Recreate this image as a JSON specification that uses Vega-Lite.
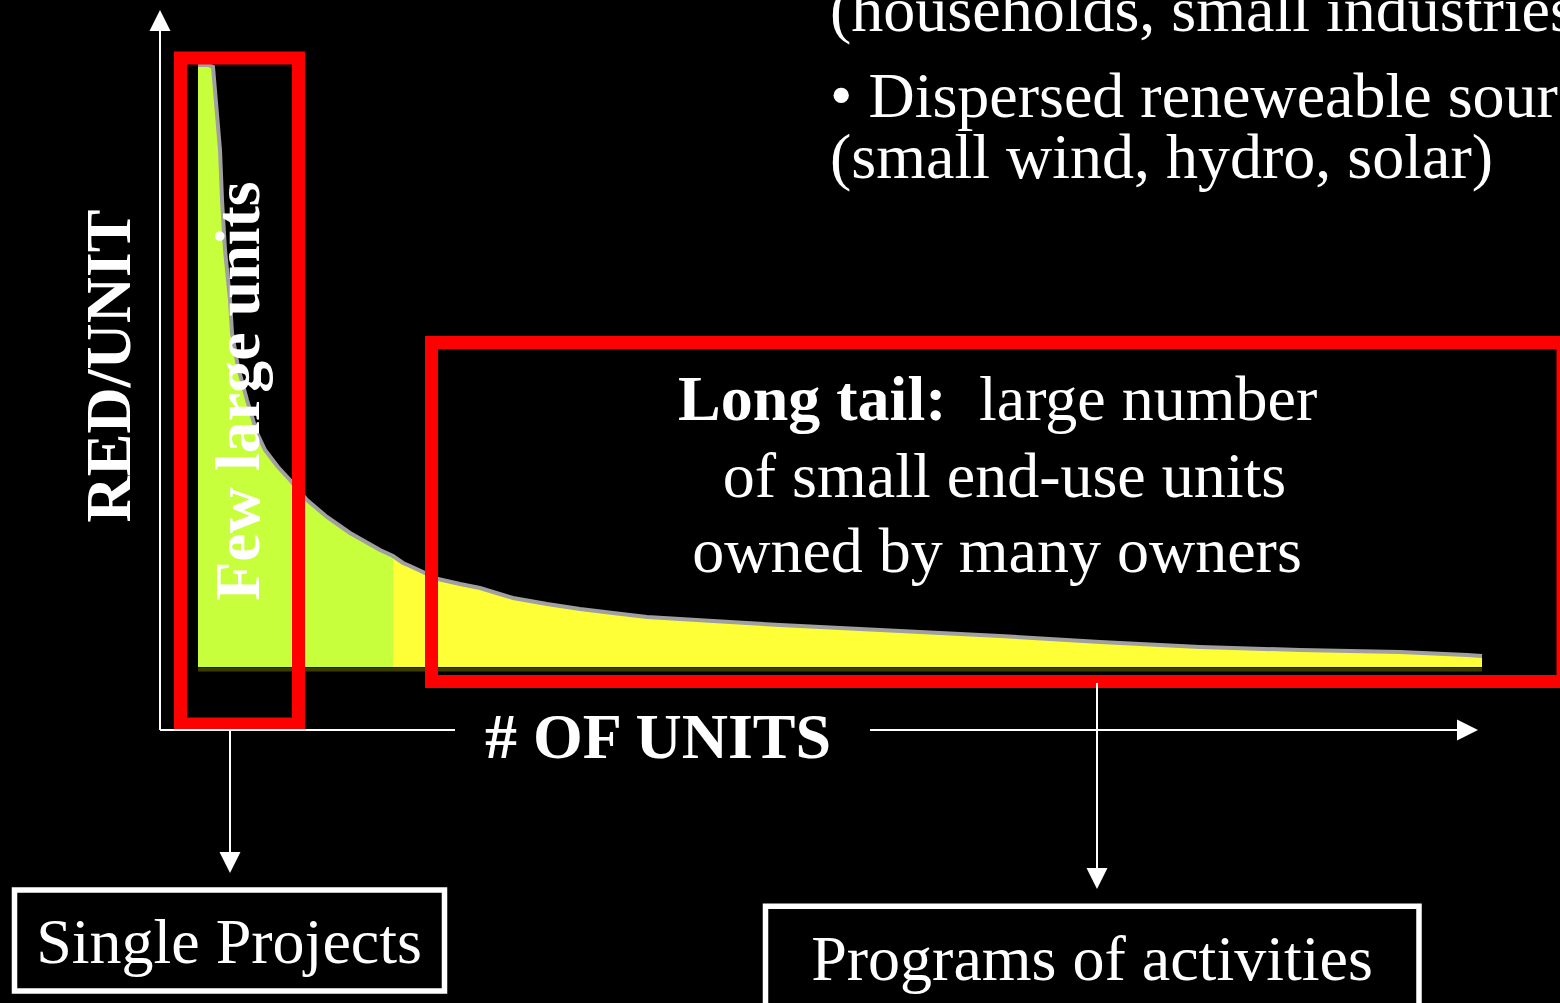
{
  "$schema": "https://vega.github.io/schema/vega-lite/v6.json",
  "width": 1560,
  "height": 1003,
  "padding": 0,
  "autosize": {"type": "none"},
  "background": "#000000",
  "config": {"view": {"stroke": null}, "text": {"font": "Liberation Serif", "fontSize": 64, "color": "#ffffff"}},
  "datasets": {
    "curve": [
      {"x": 3.8, "y": 66.5, "part": "large"}, {"x": 4.8, "y": 66.5, "part": "large"}, {"x": 5.3, "y": 66.3, "part": "large"},
      {"x": 6.0, "y": 58.0, "part": "large"}, {"x": 6.2, "y": 53.0, "part": "large"}, {"x": 6.5, "y": 48.0, "part": "large"},
      {"x": 7.0, "y": 43.0, "part": "large"}, {"x": 7.2, "y": 39.7, "part": "large"}, {"x": 7.8, "y": 36.3, "part": "large"},
      {"x": 8.7, "y": 33.0, "part": "large"}, {"x": 9.7, "y": 29.7, "part": "large"}, {"x": 10.5, "y": 28.0, "part": "large"},
      {"x": 11.8, "y": 26.3, "part": "large"}, {"x": 13.0, "y": 25.0, "part": "large"}, {"x": 14.7, "y": 23.0, "part": "large"},
      {"x": 16.7, "y": 21.3, "part": "large"}, {"x": 19.0, "y": 19.7, "part": "large"}, {"x": 22.0, "y": 18.0, "part": "large"},
      {"x": 23.3, "y": 17.4, "part": "large"},
      {"x": 23.3, "y": 17.4, "part": "small"}, {"x": 24.3, "y": 16.7, "part": "small"}, {"x": 25.0, "y": 16.4, "part": "small"},
      {"x": 27.8, "y": 15.1, "part": "small"}, {"x": 30.0, "y": 14.6, "part": "small"}, {"x": 32.0, "y": 14.2, "part": "small"},
      {"x": 35.3, "y": 13.2, "part": "small"}, {"x": 38.7, "y": 12.6, "part": "small"}, {"x": 42.0, "y": 12.1, "part": "small"},
      {"x": 45.3, "y": 11.7, "part": "small"}, {"x": 48.7, "y": 11.3, "part": "small"}, {"x": 55.3, "y": 10.9, "part": "small"},
      {"x": 62.0, "y": 10.5, "part": "small"}, {"x": 74.0, "y": 9.9, "part": "small"}, {"x": 84.0, "y": 9.4, "part": "small"},
      {"x": 94.0, "y": 8.8, "part": "small"}, {"x": 104.0, "y": 8.3, "part": "small"}, {"x": 114.0, "y": 8.0, "part": "small"},
      {"x": 124.0, "y": 7.8, "part": "small"}, {"x": 130.7, "y": 7.5, "part": "small"}, {"x": 132.2, "y": 7.4, "part": "small"}
    ],
    "base": [{"x": 3.8, "y": 6.05, "x2": 132.2, "y2": 6.05}],
    "axes": [
      {"x": 0, "y": 0, "x2": 0, "y2": 70.9},
      {"x": 0, "y": 0, "x2": 29.5, "y2": 0},
      {"x": 71.0, "y": 0, "x2": 130.3, "y2": 0},
      {"x": 7.0, "y": 0, "x2": 7.0, "y2": -13.0},
      {"x": 93.7, "y": 4.7, "x2": 93.7, "y2": -14.6}
    ],
    "heads": [
      {"x": 0, "y": 70.95, "dir": "up"},
      {"x": 130.75, "y": 0, "dir": "right"},
      {"x": 7.0, "y": -13.25, "dir": "down"},
      {"x": 93.7, "y": -14.85, "dir": "down"}
    ],
    "redboxes": [
      {"x": 2.05, "y": 0.6, "x2": 13.85, "y2": 67.2},
      {"x": 27.15, "y": 4.85, "x2": 140.3, "y2": 38.75}
    ],
    "whiteboxes": [
      {"x": -14.55, "y": -16.0, "x2": 28.45, "y2": -26.1},
      {"x": 60.55, "y": -17.63, "x2": 125.9, "y2": -31.0}
    ],
    "textLeft": [
      {"x": 67.0, "y": 69.93, "t": "(households, small industries)"},
      {"x": 67.0, "y": 61.27, "t": "• Dispersed reneweable sources"},
      {"x": 67.0, "y": 55.17, "t": "(small wind, hydro, solar)"},
      {"x": 81.9, "y": 31.0, "t": "large number"}
    ],
    "textCenter": [
      {"x": 84.45, "y": 23.33, "t": "of small end-use units"},
      {"x": 83.7, "y": 15.83, "t": "owned by many owners"},
      {"x": 6.9, "y": -23.33, "t": "Single Projects"},
      {"x": 93.2, "y": -25.0, "t": "Programs of activities"}
    ],
    "textBoldLeft": [
      {"x": 51.8, "y": 31.0, "t": "Long tail:"},
      {"x": 32.5, "y": -2.8, "t": "# OF UNITS"}
    ],
    "textBoldRot": [
      {"x": -3.0, "y": 36.4, "t": "RED/UNIT"},
      {"x": 9.9, "y": 33.9, "t": "Few large units"}
    ]
  },
  "encoding": {
    "x": {"field": "x", "type": "quantitative", "axis": null, "scale": {"domain": [-16, 140], "nice": false, "zero": false}},
    "y": {"field": "y", "type": "quantitative", "axis": null, "scale": {"domain": [-27.3, 73], "nice": false, "zero": false}}
  },
  "layer": [
    {
      "data": {"name": "curve"},
      "mark": {"type": "area", "opacity": 1},
      "encoding": {
        "y2": {"datum": 6.3},
        "color": {"field": "part", "type": "nominal", "legend": null,
          "scale": {"domain": ["large", "small"], "range": ["#c8ff3c", "#ffff38"]}}
      }
    },
    {
      "data": {"name": "curve"},
      "mark": {"type": "line", "color": "#a0a0a0", "strokeWidth": 4}
    },
    {
      "data": {"name": "base"},
      "mark": {"type": "rule", "color": "#3c3c00", "strokeWidth": 4},
      "encoding": {"x2": {"field": "x2"}, "y2": {"field": "y2"}}
    },
    {
      "data": {"name": "redboxes"},
      "mark": {"type": "rect", "filled": false, "stroke": "#ff0000", "strokeWidth": 13},
      "encoding": {"x2": {"field": "x2"}, "y2": {"field": "y2"}}
    },
    {
      "data": {"name": "whiteboxes"},
      "mark": {"type": "rect", "filled": false, "stroke": "#ffffff", "strokeWidth": 5.5},
      "encoding": {"x2": {"field": "x2"}, "y2": {"field": "y2"}}
    },
    {
      "data": {"name": "axes"},
      "mark": {"type": "rule", "color": "#ffffff", "strokeWidth": 2},
      "encoding": {"x2": {"field": "x2"}, "y2": {"field": "y2"}}
    },
    {
      "data": {"name": "heads"},
      "mark": {"type": "point", "filled": true, "color": "#ffffff", "opacity": 1, "size": 441},
      "encoding": {
        "shape": {"field": "dir", "type": "nominal", "legend": null,
          "scale": {"domain": ["up", "right", "down"], "range": ["M0,-1L1,1L-1,1Z", "M1,0L-1,-1L-1,1Z", "M-1,-1L1,-1L0,1Z"]}}
      }
    },
    {
      "data": {"name": "textLeft"},
      "mark": {"type": "text", "align": "left", "baseline": "alphabetic"},
      "encoding": {"text": {"field": "t"}}
    },
    {
      "data": {"name": "textCenter"},
      "mark": {"type": "text", "align": "center", "baseline": "alphabetic"},
      "encoding": {"text": {"field": "t"}}
    },
    {
      "data": {"name": "textBoldLeft"},
      "mark": {"type": "text", "align": "left", "baseline": "alphabetic", "fontWeight": "bold"},
      "encoding": {"text": {"field": "t"}}
    },
    {
      "data": {"name": "textBoldRot"},
      "mark": {"type": "text", "align": "center", "baseline": "alphabetic", "fontWeight": "bold", "angle": 270},
      "encoding": {"text": {"field": "t"}}
    }
  ]
}
